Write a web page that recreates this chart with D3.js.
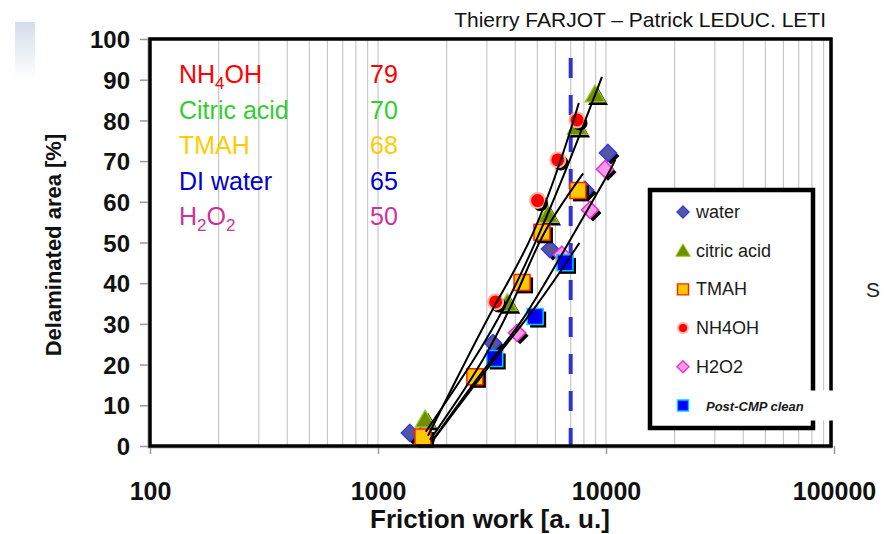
<!DOCTYPE html>
<html>
<head>
<meta charset="utf-8">
<script src="https://cdn.jsdelivr.net/npm/d3@7"></script>
<style>
  html, body { margin: 0; padding: 0; background: #ffffff; }
  svg { display: block; font-family: "Liberation Sans", Arial, sans-serif; }
</style>
</head>
<body>
<svg id="chart" width="892" height="534"></svg>
<script>
// ---- data ---------------------------------------------------------------
// measured points: [friction work (a.u.), delaminated area (%)]
const water     = [[1380, 3.2], [3191, 25.3], [5676, 48.4], [8090, 62.9], [10200, 72]];
const citric    = [[1610, 6.5], [3690, 35.1], [5570, 56.8], [7465, 78.4], [8950, 86.4]];
const tmah      = [[1575, 2.2], [2660, 17], [4284, 40.2], [5236, 52.5], [7530, 62.8]];
const nh4oh     = [[1600, 2.5], [3280, 35.4], [5012, 60.3], [6150, 70.3], [7465, 80.1]];
const h2o2      = [[4075, 27.8], [6400, 47], [8510, 58], [9900, 68]];
const postCmp   = [[3250, 21.5], [4890, 31.8], [6610, 45]];

// fitted trend curves (friction work, delaminated area)
const fitNh4oh  = [[1656, 2.5], [2430, 21], [3327, 35.9], [4786, 50.6], [6808, 75.2], [7600, 84.3]];
const fitCitric = [[1620, 3.5], [2640, 21], [3716, 35.1], [5570, 56.8], [7530, 75.2], [9600, 90.7]];
const fitTmah   = [[1690, 1.5], [2963, 21.1], [4284, 40], [5236, 52.6], [7940, 67]];
const fitWater  = [[1742, 1.5], [3097, 21.1], [4200, 29.2], [6950, 50.6], [10200, 66.6], [10980, 70.3]];
const fitH2o2   = [[1720, 1], [3200, 21.1], [4977, 34.2], [7650, 49.9]];

// threshold marked by the dashed line
const threshold = 7000;

// delaminated area at the threshold, per chemistry
const chemNames  = ["NH4OH", "Citric acid", "TMAH", "DI water", "H2O2"];
const chemValues = [79, 70, 68, 65, 50];

const xTicks = [100, 1000, 10000, 100000];
const yTicks = [0, 10, 20, 30, 40, 50, 60, 70, 80, 90, 100];
const legendLabels = ["water", "citric acid", "TMAH", "NH4OH", "H2O2", "Post-CMP clean"];

// ---- layout -------------------------------------------------------------
const svg = d3.select("#chart");
const pLeft = 150, pRight = 834, pTop = 39, pBottom = 446;

const x = d3.scaleLog().domain([100, 100000]).range([pLeft, pRight]);
const y = d3.scaleLinear().domain([0, 100]).range([pBottom, pTop]);

// decorative gradient tab, top left
const defs = svg.append("defs");
const grad = defs.append("linearGradient").attr("id", "tab").attr("x1", 0).attr("y1", 0).attr("x2", 0).attr("y2", 1);
grad.append("stop").attr("offset", "0%").attr("stop-color", "#d3deec");
grad.append("stop").attr("offset", "100%").attr("stop-color", "#ffffff");
svg.append("rect").attr("x", 15).attr("y", 22).attr("width", 20).attr("height", 58).attr("fill", "url(#tab)");

// author line
svg.append("text").attr("x", 826).attr("y", 27).attr("text-anchor", "end")
  .attr("font-size", 21).attr("fill", "#111").text("Thierry FARJOT \u2013 Patrick LEDUC. LETI");

// vertical log grid (minor ticks)
const minor = [];
for (let d = 100; d < 100000; d *= 10) for (let k = 2; k <= 9; k++) minor.push(d * k);
svg.append("g").selectAll("line").data(minor.concat([1000, 10000])).join("line")
  .attr("x1", d => x(d)).attr("x2", d => x(d)).attr("y1", pTop).attr("y2", pBottom)
  .attr("stroke", "#c8c8c8").attr("stroke-width", 1.2);

// y axis
const yAxis = d3.axisLeft(y).tickValues(yTicks).tickSize(10).tickPadding(10);
const gy = svg.append("g").attr("transform", `translate(${pLeft},0)`).call(yAxis);
gy.select(".domain").remove();
gy.selectAll(".tick line").attr("stroke", "#999").attr("stroke-width", 1.5);
gy.selectAll(".tick text").attr("font-size", 24).attr("font-weight", "bold").attr("fill", "#111")
  .attr("font-family", "'Liberation Sans', Arial, sans-serif").attr("dy", "0.36em");

// x axis
const xAxis = d3.axisBottom(x).tickValues(xTicks).tickFormat(d3.format("d")).tickSize(8).tickPadding(28);
const gx = svg.append("g").attr("transform", `translate(0,${pBottom})`).call(xAxis);
gx.select(".domain").remove();
gx.selectAll(".tick line").attr("stroke", "#999").attr("stroke-width", 1.5);
gx.selectAll(".tick text").attr("font-size", 25).attr("font-weight", "bold").attr("fill", "#111")
  .attr("font-family", "'Liberation Sans', Arial, sans-serif");

// axis titles
svg.append("text").attr("transform", "translate(61,245) rotate(-90)").attr("text-anchor", "middle")
  .attr("font-size", 22).attr("font-weight", "bold").attr("fill", "#111").text("Delaminated area [%]");
svg.append("text").attr("x", 490).attr("y", 528).attr("text-anchor", "middle")
  .attr("font-size", 26).attr("font-weight", "bold").attr("fill", "#111").text("Friction work [a. u.]");

// threshold line
svg.append("line").attr("x1", x(threshold)).attr("x2", x(threshold)).attr("y1", 58).attr("y2", pBottom)
  .attr("stroke", "#3333cc").attr("stroke-width", 4).attr("stroke-dasharray", "20,17");

// ---- markers --------------------------------------------------------------
const diamond = s => `M0,${-s}L${s},0L0,${s}L${-s},0Z`;
const square  = s => `M${-s},${-s}H${s}V${s}H${-s}Z`;
const tri     = s => `M0,${-s}L${s * 1.05},${s * 0.8}H${-s * 1.05}Z`;
const circ    = s => d3.symbol(d3.symbolCircle, Math.PI * s * s)();

const series = [
  { data: water,   path: diamond(8.5), fill: "#56569c", stroke: "#2f3cf5", sw: 1.6 },
  { data: h2o2,    path: diamond(8.5), fill: "#ff99ee", stroke: "#ee33cc", sw: 1.6 },
  { data: citric,  path: tri(9.5),     fill: "#6f8f00", stroke: "#99cc22", sw: 1.2 },
  { data: nh4oh,   path: circ(7.5),    fill: "#ff0000", stroke: "#ffb0a0", sw: 2 },
  { data: tmah,    path: square(8),    fill: "#ffc800", stroke: "#ff2200", sw: 1.5 },
  { data: postCmp, path: square(8),    fill: "#0000ff", stroke: "#00ccff", sw: 1.5 }
];

const gm = svg.append("g");
series.forEach(s => {
  gm.append("g").selectAll("path").data(s.data).join("path")
    .attr("d", s.path).attr("fill", "#000")
    .attr("transform", d => `translate(${x(d[0]) + 3},${y(d[1]) + 3})`);
  gm.append("g").selectAll("path").data(s.data).join("path")
    .attr("d", s.path).attr("fill", s.fill).attr("stroke", s.stroke).attr("stroke-width", s.sw)
    .attr("transform", d => `translate(${x(d[0])},${y(d[1])})`);
});

// trend curves, smoothed through their control points
const line = d3.line().x(d => x(d[0])).y(d => y(d[1])).curve(d3.curveBasis);
svg.append("g").selectAll("path").data([fitNh4oh, fitCitric, fitTmah, fitWater, fitH2o2]).join("path")
  .attr("d", line).attr("fill", "none").attr("stroke", "#000").attr("stroke-width", 2);

// ---- plot frame -----------------------------------------------------------
svg.append("rect").attr("x", pLeft - 2).attr("y", pTop - 1).attr("width", pRight - pLeft).attr("height", pBottom - pTop + 3)
  .attr("fill", "none").attr("stroke", "#aaa").attr("stroke-width", 1);
svg.append("rect").attr("x", pLeft).attr("y", pTop).attr("width", pRight - pLeft - 3).attr("height", pBottom - pTop)
  .attr("fill", "none").attr("stroke", "#000").attr("stroke-width", 3.5);

// ---- chemistry annotations ---------------------------------------------
const chemColors = ["#ff0000", "#33cc33", "#ffcc00", "#0000cc", "#cc3399"];
const gAnn = svg.append("g").attr("font-size", 25);
chemNames.forEach((name, i) => {
  const yy = 83 + i * 35.5;
  const t = gAnn.append("text").attr("x", 179).attr("y", yy).attr("fill", chemColors[i]);
  // chemical formulas with subscripts
  if (/\d/.test(name)) {
    const parts = name.match(/[A-Za-z ]+|\d+/g);
    let shifted = false;
    parts.forEach(p => {
      if (/^\d+$/.test(p)) {
        t.append("tspan").attr("font-size", 17).attr("dy", 6).text(p);
        shifted = true;
      } else {
        const ts = t.append("tspan").text(p);
        if (shifted) { ts.attr("dy", -6); shifted = false; }
      }
    });
  } else {
    t.text(name);
  }
  gAnn.append("text").attr("x", 370).attr("y", yy).attr("fill", chemColors[i]).text(chemValues[i]);
});

// ---- legend -----------------------------------------------------------------
const lg = svg.append("g");
lg.append("rect").attr("x", 650).attr("y", 190).attr("width", 163).attr("height", 238)
  .attr("fill", "#fff").attr("stroke", "#000").attr("stroke-width", 4.5);
const legendMarks = [
  { path: diamond(6),  fill: "#56569c", stroke: "#2f3cf5", sw: 1.4 },
  { path: tri(7),      fill: "#6f8f00", stroke: "#99cc22", sw: 1 },
  { path: square(5.5), fill: "#ffc800", stroke: "#ff2200", sw: 1.4 },
  { path: circ(5),     fill: "#ff0000", stroke: "#ffb0a0", sw: 2 },
  { path: diamond(6),  fill: "#ff99ee", stroke: "#ee33cc", sw: 1.4 },
  { path: square(5.5), fill: "#0000ff", stroke: "#00ccff", sw: 1.4 }
];
legendLabels.forEach((lab, i) => {
  const yy = 212 + i * 38.7;
  if (i === legendLabels.length - 1) {
    lg.append("rect").attr("x", 700).attr("y", yy - 15).attr("width", 134).attr("height", 30).attr("fill", "#fff");
  }
  const m = legendMarks[i];
  lg.append("path").attr("d", m.path).attr("fill", m.fill).attr("stroke", m.stroke).attr("stroke-width", m.sw)
    .attr("transform", `translate(683,${yy})`);
  const t = lg.append("text").attr("y", yy + 6).attr("fill", "#1a1a1a");
  if (i === legendLabels.length - 1) {
    t.attr("x", 706).attr("font-size", 13).attr("font-style", "italic").attr("font-weight", "bold").attr("y", yy + 5);
  } else {
    t.attr("x", 696).attr("font-size", 18);
  }
  t.text(lab);
});

// clipped text at the right edge
svg.append("text").attr("x", 866).attr("y", 297).attr("font-size", 21).attr("fill", "#222").text("S");
</script>
</body>
</html>
